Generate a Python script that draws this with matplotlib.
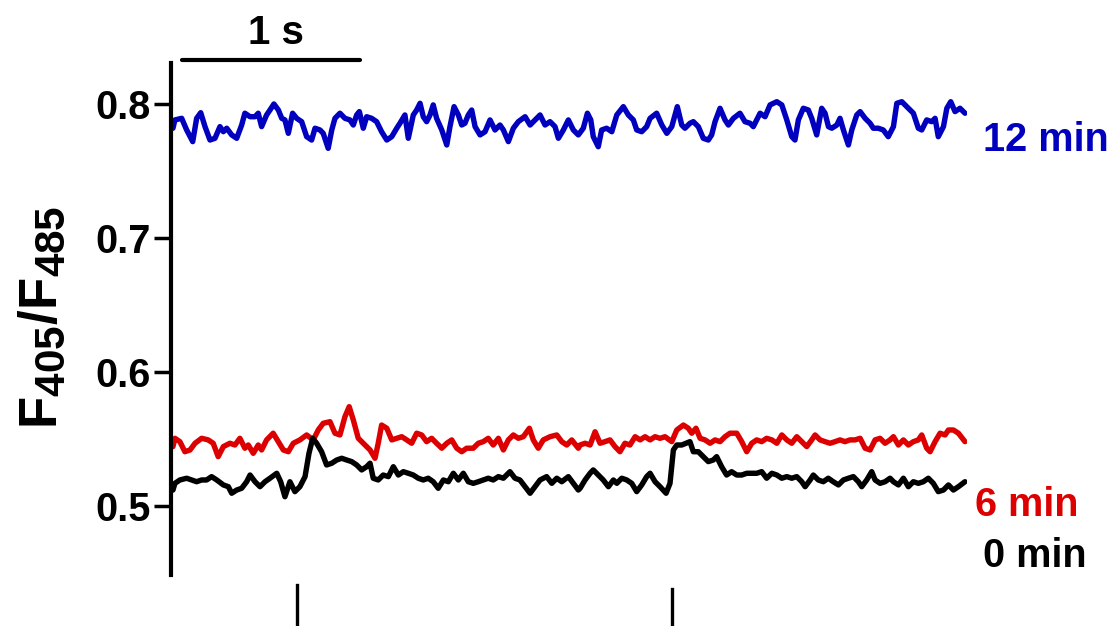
import matplotlib
matplotlib.use("Agg")
import matplotlib.pyplot as plt
import matplotlib._mathtext as mathtext_internals

plt.rcParams['font.family'] = ['Liberation Sans', 'DejaVu Sans']
plt.rcParams['font.weight'] = 'bold'
plt.rcParams['mathtext.fontset'] = 'custom'
plt.rcParams['mathtext.rm'] = 'Liberation Sans:bold'
plt.rcParams['mathtext.bf'] = 'Liberation Sans:bold'
# larger subscripts, as in the original label
mathtext_internals.SHRINK_FACTOR = 0.8

# time (s) and F405/F485 ratio
t_12 = [0.000, 0.011, 0.049, 0.077, 0.111, 0.133, 0.156, 0.180, 0.208, 0.236, 0.264, 0.283, 0.302, 0.330,
        0.358, 0.386, 0.404, 0.433, 0.461, 0.479, 0.498, 0.526, 0.545, 0.567, 0.592, 0.611, 0.629, 0.648,
        0.672, 0.695, 0.723, 0.751, 0.779, 0.798, 0.826, 0.844, 0.872, 0.892, 0.910, 0.938, 0.966, 0.994,
        1.013, 1.032, 1.047, 1.069, 1.088, 1.116, 1.144, 1.172, 1.201, 1.229, 1.257, 1.275, 1.303, 1.322,
        1.350, 1.369, 1.388, 1.406, 1.425, 1.444, 1.462, 1.481, 1.510, 1.538, 1.556, 1.579, 1.603, 1.622,
        1.640, 1.659, 1.678, 1.697, 1.725, 1.753, 1.781, 1.809, 1.837, 1.856, 1.884, 1.912, 1.940, 1.978,
        2.006, 2.034, 2.062, 2.090, 2.118, 2.146, 2.165, 2.193, 2.221, 2.249, 2.277, 2.305, 2.328, 2.347,
        2.361, 2.389, 2.408, 2.436, 2.465, 2.493, 2.530, 2.558, 2.586, 2.605, 2.633, 2.661, 2.680, 2.717,
        2.746, 2.774, 2.802, 2.833, 2.858, 2.876, 2.904, 2.923, 2.951, 2.979, 3.007, 3.026, 3.045, 3.073,
        3.101, 3.120, 3.148, 3.185, 3.213, 3.242, 3.260, 3.298, 3.326, 3.354, 3.392, 3.420, 3.448, 3.476,
        3.494, 3.513, 3.541, 3.569, 3.588, 3.616, 3.644, 3.663, 3.682, 3.701, 3.729, 3.747, 3.766, 3.794,
        3.813, 3.841, 3.860, 3.888, 3.916, 3.934, 3.962, 3.990, 4.018, 4.047, 4.066, 4.094, 4.131, 4.159,
        4.187, 4.206, 4.234, 4.262, 4.281, 4.299, 4.328, 4.347, 4.369, 4.393, 4.421, 4.449]
r_12 = [0.7819, 0.7881, 0.7893, 0.7806, 0.7719, 0.7893, 0.7935, 0.7831, 0.7731, 0.7744, 0.7831, 0.7793,
        0.7819, 0.7769, 0.7744, 0.7843, 0.7931, 0.7905, 0.7905, 0.7931, 0.7831, 0.7918, 0.7955, 0.8000,
        0.7955, 0.7893, 0.7881, 0.7781, 0.7931, 0.7893, 0.7868, 0.7756, 0.7731, 0.7819, 0.7806, 0.7781,
        0.7669, 0.7806, 0.7893, 0.7931, 0.7893, 0.7881, 0.7843, 0.7918, 0.7943, 0.7819, 0.7905, 0.7893,
        0.7868, 0.7793, 0.7731, 0.7756, 0.7819, 0.7856, 0.7918, 0.7744, 0.7918, 0.7955, 0.8005, 0.7905,
        0.7868, 0.7918, 0.7993, 0.7893, 0.7806, 0.7694, 0.7831, 0.7980, 0.7918, 0.7843, 0.7856, 0.7918,
        0.7955, 0.7831, 0.7769, 0.7793, 0.7881, 0.7806, 0.7843, 0.7806, 0.7719, 0.7819, 0.7868, 0.7905,
        0.7843, 0.7881, 0.7918, 0.7843, 0.7868, 0.7831, 0.7744, 0.7806, 0.7881, 0.7806, 0.7769, 0.7819,
        0.7931, 0.7881, 0.7756, 0.7681, 0.7806, 0.7819, 0.7793, 0.7918, 0.7980, 0.7918, 0.7881, 0.7806,
        0.7793, 0.7831, 0.7893, 0.7931, 0.7843, 0.7781, 0.7831, 0.7980, 0.7843, 0.7819, 0.7856, 0.7868,
        0.7831, 0.7744, 0.7731, 0.7769, 0.7868, 0.7968, 0.7881, 0.7843, 0.7893, 0.7931, 0.7868, 0.7856,
        0.7831, 0.7931, 0.7905, 0.7993, 0.8017, 0.7993, 0.7881, 0.7756, 0.7731, 0.7881, 0.7968, 0.7955,
        0.7893, 0.7769, 0.7968, 0.7931, 0.7831, 0.7819, 0.7843, 0.7893, 0.7806, 0.7694, 0.7806, 0.7918,
        0.7943, 0.7893, 0.7856, 0.7819, 0.7819, 0.7806, 0.7756, 0.7831, 0.8005, 0.8017, 0.7968, 0.7931,
        0.7819, 0.7806, 0.7881, 0.7868, 0.7893, 0.7756, 0.7831, 0.7968, 0.8017, 0.7943, 0.7968, 0.7931]

t_6 = [0.000, 0.011, 0.039, 0.067, 0.096, 0.124, 0.161, 0.198, 0.226, 0.254, 0.283, 0.320, 0.348, 0.376,
       0.404, 0.423, 0.451, 0.479, 0.498, 0.526, 0.563, 0.592, 0.620, 0.648, 0.676, 0.713, 0.751, 0.788,
       0.816, 0.844, 0.882, 0.910, 0.938, 0.966, 0.990, 1.013, 1.041, 1.069, 1.107, 1.135, 1.153, 1.172,
       1.201, 1.229, 1.257, 1.285, 1.313, 1.341, 1.369, 1.397, 1.425, 1.453, 1.481, 1.510, 1.538, 1.566,
       1.594, 1.622, 1.650, 1.687, 1.715, 1.743, 1.771, 1.799, 1.828, 1.856, 1.884, 1.912, 1.940, 1.968,
       2.002, 2.024, 2.052, 2.080, 2.118, 2.156, 2.184, 2.212, 2.240, 2.277, 2.287, 2.315, 2.343, 2.371,
       2.399, 2.427, 2.455, 2.483, 2.511, 2.539, 2.567, 2.596, 2.624, 2.652, 2.680, 2.708, 2.736, 2.764,
       2.802, 2.830, 2.867, 2.895, 2.914, 2.938, 2.961, 2.989, 3.017, 3.045, 3.073, 3.101, 3.129, 3.167,
       3.195, 3.223, 3.251, 3.279, 3.307, 3.335, 3.364, 3.392, 3.420, 3.448, 3.476, 3.504, 3.532, 3.560,
       3.588, 3.607, 3.635, 3.663, 3.691, 3.719, 3.747, 3.775, 3.803, 3.831, 3.860, 3.888, 3.916, 3.944,
       3.972, 4.000, 4.028, 4.047, 4.075, 4.103, 4.131, 4.159, 4.187, 4.206, 4.234, 4.253, 4.281, 4.309,
       4.337, 4.356, 4.384, 4.412, 4.449]
r_6 = [0.5443, 0.5505, 0.5480, 0.5405, 0.5418, 0.5468, 0.5505, 0.5493, 0.5468, 0.5368, 0.5443, 0.5468,
       0.5455, 0.5505, 0.5431, 0.5455, 0.5393, 0.5455, 0.5418, 0.5493, 0.5543, 0.5480, 0.5418, 0.5405,
       0.5468, 0.5493, 0.5530, 0.5493, 0.5567, 0.5617, 0.5629, 0.5543, 0.5530, 0.5666, 0.5741, 0.5642,
       0.5505, 0.5468, 0.5418, 0.5356, 0.5468, 0.5604, 0.5580, 0.5493, 0.5505, 0.5517, 0.5493, 0.5468,
       0.5543, 0.5530, 0.5480, 0.5505, 0.5468, 0.5431, 0.5468, 0.5493, 0.5431, 0.5405, 0.5431, 0.5431,
       0.5468, 0.5480, 0.5505, 0.5455, 0.5505, 0.5418, 0.5493, 0.5530, 0.5505, 0.5517, 0.5580, 0.5493,
       0.5431, 0.5493, 0.5517, 0.5530, 0.5480, 0.5455, 0.5493, 0.5431, 0.5455, 0.5468, 0.5455, 0.5554,
       0.5468, 0.5480, 0.5493, 0.5443, 0.5405, 0.5468, 0.5455, 0.5517, 0.5493, 0.5517, 0.5493, 0.5517,
       0.5505, 0.5517, 0.5480, 0.5567, 0.5604, 0.5580, 0.5543, 0.5580, 0.5505, 0.5493, 0.5468, 0.5493,
       0.5480, 0.5517, 0.5543, 0.5543, 0.5480, 0.5405, 0.5468, 0.5493, 0.5480, 0.5505, 0.5493, 0.5468,
       0.5530, 0.5493, 0.5468, 0.5517, 0.5480, 0.5443, 0.5493, 0.5530, 0.5493, 0.5480, 0.5468, 0.5480,
       0.5493, 0.5480, 0.5493, 0.5493, 0.5505, 0.5431, 0.5418, 0.5493, 0.5505, 0.5468, 0.5493, 0.5517,
       0.5455, 0.5493, 0.5455, 0.5480, 0.5493, 0.5530, 0.5431, 0.5405, 0.5480, 0.5543, 0.5530, 0.5567,
       0.5567, 0.5543, 0.5480]

t_0 = [0.000, 0.011, 0.039, 0.077, 0.105, 0.133, 0.161, 0.189, 0.217, 0.246, 0.283, 0.311, 0.330, 0.358,
       0.386, 0.414, 0.433, 0.461, 0.489, 0.517, 0.545, 0.583, 0.605, 0.629, 0.657, 0.685, 0.713, 0.742,
       0.764, 0.785, 0.807, 0.835, 0.863, 0.892, 0.920, 0.948, 0.976, 1.004, 1.032, 1.060, 1.088, 1.107,
       1.125, 1.153, 1.181, 1.210, 1.238, 1.266, 1.294, 1.322, 1.350, 1.378, 1.406, 1.434, 1.462, 1.490,
       1.519, 1.547, 1.575, 1.603, 1.631, 1.659, 1.687, 1.715, 1.743, 1.771, 1.799, 1.828, 1.856, 1.893,
       1.921, 1.949, 1.978, 2.006, 2.034, 2.062, 2.099, 2.128, 2.156, 2.184, 2.221, 2.249, 2.277, 2.287,
       2.315, 2.343, 2.361, 2.389, 2.417, 2.446, 2.474, 2.493, 2.521, 2.549, 2.577, 2.605, 2.633, 2.661,
       2.680, 2.708, 2.736, 2.770, 2.792, 2.811, 2.830, 2.858, 2.882, 2.904, 2.923, 2.951, 2.979, 3.007,
       3.035, 3.054, 3.082, 3.110, 3.138, 3.167, 3.195, 3.223, 3.251, 3.279, 3.307, 3.335, 3.364, 3.392,
       3.420, 3.448, 3.476, 3.504, 3.532, 3.551, 3.579, 3.597, 3.625, 3.653, 3.681, 3.709, 3.738, 3.766,
       3.794, 3.822, 3.850, 3.869, 3.897, 3.925, 3.944, 3.972, 4.000, 4.028, 4.047, 4.075, 4.103, 4.131,
       4.159, 4.187, 4.215, 4.243, 4.271, 4.299, 4.328, 4.356, 4.384, 4.412, 4.449]
r_0 = [0.5119, 0.5169, 0.5194, 0.5207, 0.5194, 0.5181, 0.5194, 0.5194, 0.5219, 0.5194, 0.5157, 0.5144,
       0.5095, 0.5119, 0.5132, 0.5181, 0.5231, 0.5181, 0.5144, 0.5181, 0.5207, 0.5244, 0.5181, 0.5069,
       0.5181, 0.5107, 0.5144, 0.5219, 0.5393, 0.5505, 0.5468, 0.5405, 0.5306, 0.5319, 0.5343, 0.5356,
       0.5343, 0.5331, 0.5306, 0.5269, 0.5293, 0.5319, 0.5207, 0.5194, 0.5231, 0.5219, 0.5293, 0.5231,
       0.5256, 0.5244, 0.5231, 0.5207, 0.5194, 0.5207, 0.5181, 0.5132, 0.5194, 0.5181, 0.5244, 0.5194,
       0.5244, 0.5181, 0.5169, 0.5181, 0.5194, 0.5207, 0.5194, 0.5219, 0.5207, 0.5256, 0.5207, 0.5194,
       0.5144, 0.5095, 0.5144, 0.5194, 0.5219, 0.5169, 0.5207, 0.5181, 0.5219, 0.5169, 0.5119, 0.5132,
       0.5194, 0.5244, 0.5269, 0.5231, 0.5194, 0.5144, 0.5194, 0.5169, 0.5207, 0.5194, 0.5169, 0.5107,
       0.5157, 0.5219, 0.5244, 0.5181, 0.5144, 0.5095, 0.5169, 0.5418, 0.5455, 0.5455, 0.5468, 0.5480,
       0.5405, 0.5405, 0.5368, 0.5331, 0.5343, 0.5368, 0.5293, 0.5231, 0.5256, 0.5231, 0.5231, 0.5244,
       0.5244, 0.5244, 0.5256, 0.5207, 0.5244, 0.5231, 0.5207, 0.5219, 0.5207, 0.5219, 0.5181, 0.5144,
       0.5194, 0.5231, 0.5194, 0.5181, 0.5207, 0.5181, 0.5157, 0.5194, 0.5207, 0.5219, 0.5181, 0.5144,
       0.5194, 0.5256, 0.5194, 0.5169, 0.5181, 0.5207, 0.5181, 0.5157, 0.5207, 0.5144, 0.5181, 0.5169,
       0.5181, 0.5207, 0.5169, 0.5107, 0.5119, 0.5157, 0.5119, 0.5144, 0.5181]

stim_times = [0.697, 2.803]
yticks = [0.5, 0.6, 0.7, 0.8]

blue = '#0000BE'
red = '#DD0000'

fig = plt.figure(figsize=(11.14, 6.26), dpi=100)
ax = fig.add_axes([0.1535, 0.0815, 0.7145, 0.8179])

ax.plot(t_12, r_12, color=blue, lw=3.9, solid_joinstyle='round', solid_capstyle='round')
ax.plot(t_6, r_6, color=red, lw=3.9, solid_joinstyle='round', solid_capstyle='round')
ax.plot(t_0, r_0, color='black', lw=3.9, solid_joinstyle='round', solid_capstyle='round')

ax.set_xlim(-0.011, 4.46)
ax.set_ylim(0.4485, 0.8306)

for side in ['top', 'right', 'bottom']:
    ax.spines[side].set_visible(False)
ax.spines['left'].set_linewidth(3)
ax.set_xticks([])
ax.set_yticks(yticks)
ax.set_yticklabels(['0.5', '0.6', '0.7', '0.8'], fontsize=28.5, fontweight='bold')
ax.tick_params(axis='y', direction='out', length=12.5, width=2.5, pad=2)

# scale bar
ax.plot([0.051, 1.051], [0.8328, 0.8328], color='black', lw=3, clip_on=False,
        solid_capstyle='round')
ax.text(0.579, 0.8445, '1 s', ha='center', va='baseline', fontsize=29, fontweight='bold')

# stimulus markers
ax.plot([stim_times[0], stim_times[0]], [0.4410, 0.405], color='black', lw=2.4, clip_on=False)
ax.plot([stim_times[1], stim_times[1]], [0.4380, 0.405], color='black', lw=2.4, clip_on=False)

# trace labels
ax.text(4.551, 0.7731, '12 min', color=blue, fontsize=28.5, fontweight='bold', va='center', ha='left')
ax.text(4.506, 0.5007, '6 min', color=red, fontsize=28.5, fontweight='bold', va='center', ha='left')
ax.text(4.551, 0.4627, '0 min', color='black', fontsize=28.5, fontweight='bold', va='center', ha='left')

fig.text(42 / 1114, 1 - 317 / 626, r'$\mathbf{F_{405}/F_{485}}$', rotation=90,
         ha='center', va='center', fontsize=38)

fig.savefig('out.png', dpi=100)
